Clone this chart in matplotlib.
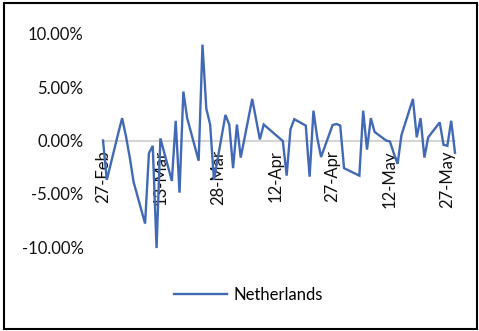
import matplotlib
matplotlib.use("Agg")
import matplotlib.pyplot as plt
import matplotlib.dates as mdates
from matplotlib.patches import Rectangle
from matplotlib.lines import Line2D
import pandas as pd

# Daily returns, Netherlands index, 2020 trading days
dates = [
    "2020-02-27", "2020-02-28",
    "2020-03-02", "2020-03-03", "2020-03-04", "2020-03-05", "2020-03-06",
    "2020-03-09", "2020-03-10", "2020-03-11", "2020-03-12", "2020-03-13",
    "2020-03-16", "2020-03-17", "2020-03-18", "2020-03-19", "2020-03-20",
    "2020-03-23", "2020-03-24", "2020-03-25", "2020-03-26", "2020-03-27",
    "2020-03-30", "2020-03-31", "2020-04-01", "2020-04-02", "2020-04-03",
    "2020-04-06", "2020-04-07", "2020-04-08", "2020-04-09",
    "2020-04-14", "2020-04-15", "2020-04-16", "2020-04-17",
    "2020-04-20", "2020-04-21", "2020-04-22", "2020-04-23", "2020-04-24",
    "2020-04-27", "2020-04-28", "2020-04-29", "2020-04-30",
    "2020-05-04", "2020-05-05", "2020-05-06", "2020-05-07", "2020-05-08",
    "2020-05-11", "2020-05-12", "2020-05-13", "2020-05-14", "2020-05-15",
    "2020-05-18", "2020-05-19", "2020-05-20", "2020-05-21", "2020-05-22",
    "2020-05-25", "2020-05-26", "2020-05-27", "2020-05-28", "2020-05-29",
]
netherlands = [
    0.00, -3.70,
    0.70, 2.10, 0.40, -1.60, -3.90,
    -7.80, -1.20, -0.50, -10.10, 0.20,
    -3.80, 1.85, -4.90, 4.60, 2.10,
    -1.90, 9.00, 3.00, 1.50, -3.70,
    2.40, 1.50, -2.60, 1.50, -1.60,
    3.90, 2.00, 0.10, 1.50,
    -0.05, -3.30, 1.05, 2.00,
    1.40, -3.40, 2.80, 0.25, -1.55,
    1.45, 1.55, 1.40, -2.60,
    -3.30, 2.80, -0.85, 2.10, 0.80,
    0.00, -0.10, -1.20, -2.20, 0.50,
    3.90, 0.30, 2.10, -1.60, 0.30,
    1.70, -0.40, -0.50, 1.85, -1.15,
]
series_name = "Netherlands"
y_ticks = [-10, -5, 0, 5, 10]
x_ticks = ["2020-02-27", "2020-03-13", "2020-03-28", "2020-04-12",
           "2020-04-27", "2020-05-12", "2020-05-27"]

plt.rcParams["font.family"] = ["Lato", "DejaVu Sans"]

W, H = 479, 331
fig = plt.figure(figsize=(W / 100, H / 100), dpi=100)
fig.patch.set_facecolor("white")

left, right = 103 / W, 455 / W
top, bottom = 1 - 34 / H, 1 - 247 / H
ax = fig.add_axes([left, bottom, right - left, top - bottom])

x = pd.to_datetime(dates)
line_color = "#4169B5"
ax.plot(x, netherlands, color=line_color, lw=1.7, clip_on=False,
        solid_joinstyle="miter", zorder=3)

ax.set_ylim(-10, 10)
ax.set_xlim(pd.Timestamp("2020-02-27"), pd.Timestamp("2020-05-29"))
ax.set_yticks(y_ticks)
ax.yaxis.set_major_formatter(plt.FuncFormatter(lambda v, p: f"{v:.2f}%"))
ax.set_xticks(pd.to_datetime(x_ticks))
ax.xaxis.set_major_formatter(mdates.DateFormatter("%d-%b"))

for s in ["top", "right", "left"]:
    ax.spines[s].set_visible(False)
ax.spines["bottom"].set_position(("data", 0))
ax.spines["bottom"].set_color("#D0D0D0")
ax.spines["bottom"].set_linewidth(1.3)
ax.spines["bottom"].set_zorder(1)

fs = 12
ax.tick_params(axis="y", length=0, pad=14, labelsize=fs, labelcolor="#111111")
ax.tick_params(axis="x", length=0, pad=7, labelsize=fs, labelcolor="#111111",
               labelrotation=90)
ax.set_facecolor("none")

handle = Line2D([], [], color=line_color, lw=1.7)
fig.legend([handle], [series_name], loc="center",
           bbox_to_anchor=(248.5 / W, 1 - 295 / H), frameon=False,
           fontsize=fs, handlelength=3.2, handletextpad=0.36)

fig.patches.append(Rectangle((4 / W, 2 / H), 473 / W, 326 / H,
                             transform=fig.transFigure, fill=False,
                             edgecolor="black", lw=1.5))

fig.savefig("out.png", dpi=100)
